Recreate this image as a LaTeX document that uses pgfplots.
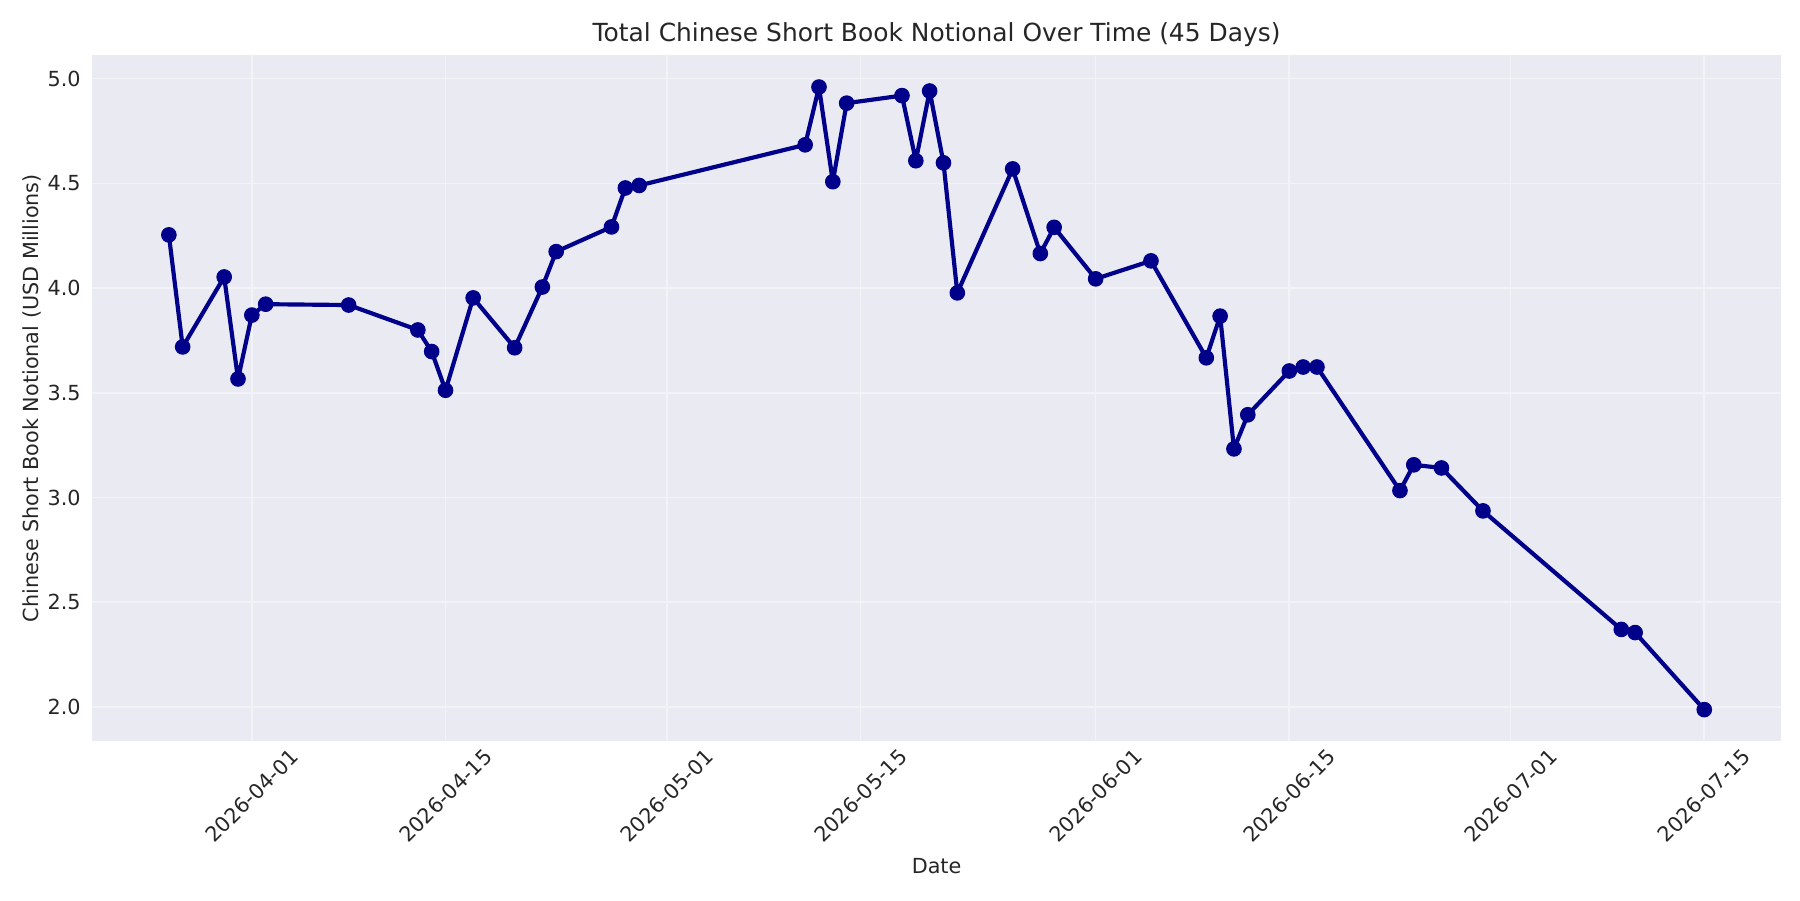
\documentclass[border=0pt]{standalone}
\usepackage{fontspec}
\setmainfont{DejaVu Sans}
\usepackage{pgfplots}
\pgfplotsset{compat=1.18}

\definecolor{bgc}{HTML}{EAEAF2}
\definecolor{gridc}{HTML}{F2F2F7}
\definecolor{txt}{HTML}{262626}
\definecolor{series}{HTML}{00008B}

% days counted from 2026-04-01 (= 0)
\pgfplotstableread{
day value
-6  4.254
-5  3.719
-2  4.053
-1  3.566
0   3.871
1   3.923
7   3.919
12  3.800
13  3.697
14  3.512
16  3.953
19  3.715
21  4.005
22  4.174
26  4.292
27  4.478
28  4.490
40  4.684
41  4.960
42  4.508
43  4.883
47  4.919
48  4.608
49  4.941
50  4.598
51  3.977
55  4.569
57  4.165
58  4.290
61  4.044
65  4.130
69  3.667
70  3.866
71  3.232
72  3.395
75  3.604
76  3.623
77  3.623
83  3.033
84  3.156
86  3.141
89  2.936
99  2.370
100 2.355
105 1.987
}\notional

\begin{document}
\begin{tikzpicture}
\useasboundingbox (-44.2bp,-76.4bp) rectangle (819.8bp,355.6bp);
\begin{axis}[
    at={(0,0)}, anchor=south west,
    scale only axis,
    width=810.7bp, height=329bp,
    xmin=-11.55, xmax=110.55,
    ymin=1.838, ymax=5.111,
    axis background/.style={fill=bgc},
    axis line style={draw=none},
    major tick length=0pt,
    grid=major,
    major grid style={draw=gridc, line width=0.8bp},
    xtick={0,14,30,44,61,75,91,105},
    xticklabels={2026-04-01,2026-04-15,2026-05-01,2026-05-15,2026-06-01,2026-06-15,2026-07-01,2026-07-15},
    ytick={2,2.5,3,3.5,4,4.5,5},
    yticklabel style={/pgf/number format/fixed, /pgf/number format/fixed zerofill, /pgf/number format/precision=1},
    /pgf/number format/assume math mode=true,
    tick label style={font=\fontsize{10}{12}\selectfont, text=txt},
    x tick label style={yshift=-26.4bp, rotate=45, anchor=center},
    y tick label style={anchor=east, xshift=-2bp},
    xlabel={Date},
    ylabel={Chinese Short Book Notional (USD Millions)},
    every axis x label/.style={at={(axis description cs:0.5,0)}, anchor=center, yshift=-60bp, font=\fontsize{10}{12}\selectfont, text=txt},
    every axis y label/.style={at={(axis description cs:0,0.5)}, anchor=center, xshift=-28.7bp, rotate=90, font=\fontsize{10}{12}\selectfont, text=txt},
    every axis title shift=0pt,
    title={Total Chinese Short Book Notional Over Time (45 Days)},
    title style={at={(axis description cs:0.5,1)}, anchor=center, yshift=10bp, font=\fontsize{12}{14}\selectfont, text=txt},
]
\addplot[series, line width=2bp, line join=round, mark=*, mark size=3.5bp, mark options={fill=series, draw=series, line width=0.5bp}] table[x=day, y=value] {\notional};
\end{axis}
\end{tikzpicture}
\end{document}
